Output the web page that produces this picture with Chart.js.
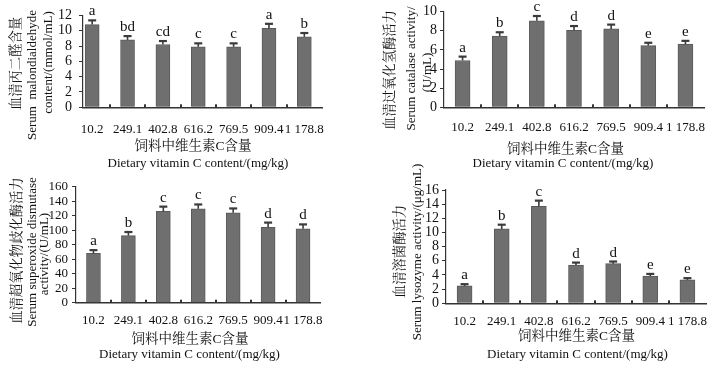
<!DOCTYPE html>
<html><head><meta charset="utf-8">
<script src="https://cdn.jsdelivr.net/npm/chart.js@4.4.1/dist/chart.umd.min.js"></script>
<style>
html,body{margin:0;padding:0;background:#fff;}
#wrap{position:relative;width:718px;height:368px;overflow:hidden;background:#fff;}
canvas{position:absolute;left:0;top:0;}
</style></head><body>
<div id="wrap">
<canvas id="c1" width="718" height="368"></canvas>
<canvas id="c2" width="718" height="368"></canvas>
<canvas id="c3" width="718" height="368"></canvas>
<canvas id="c4" width="718" height="368"></canvas>
</div>
<script>
// ---- data ----
const doseLabels = ['10.2', '249.1', '402.8', '616.2', '769.5', '909.4', '1 178.8'];

const mdaValues  = [10.8, 8.8, 8.2, 7.9, 7.9, 10.3, 9.2];
const mdaErrors  = [0.55, 0.5, 0.45, 0.45, 0.45, 0.6, 0.5];
const mdaLetters = ['a', 'bd', 'cd', 'c', 'c', 'a', 'b'];

const catValues  = [4.9, 7.45, 9.05, 8.05, 8.2, 6.45, 6.6];
const catErrors  = [0.4, 0.4, 0.5, 0.45, 0.45, 0.3, 0.35];
const catLetters = ['a', 'b', 'c', 'd', 'd', 'e', 'e'];

const sodValues  = [68, 92.5, 126, 129.5, 124, 104, 102];
const sodErrors  = [4.5, 5, 6.5, 6, 6, 6.5, 6];
const sodLetters = ['a', 'b', 'c', 'c', 'c', 'd', 'd'];

const lzmValues  = [2.45, 10.5, 13.7, 5.4, 5.6, 3.85, 3.3];
const lzmErrors  = [0.25, 0.6, 0.8, 0.35, 0.3, 0.3, 0.25];
const lzmLetters = ['a', 'b', 'c', 'd', 'd', 'e', 'e'];

const xTitleZh = '饲料中维生素C含量';
const xTitleEn = 'Dietary vitamin C content/(mg/kg)';

// ---- layout ----
const YW = 40, XH = 30;
const SERIF = '"Liberation Serif", "Times New Roman", serif';
const ZH = '"Liberation Serif", "Noto Serif CJK SC", "Noto Sans CJK SC", serif';

const panels = [
  { id: 'c1', values: mdaValues, errors: mdaErrors, letters: mdaLetters,
    L: 83, R: 322, T: 13.3, B: 107.3, xmin: -0.26, xmax: 6.5, yMax: 12, yStep: 2,
    yFont: 14, yPad: 7, xPad: 14, barW: 14,
    zh: [193, 146.5], en: [198, 164],
    yTitles: [['血清丙二醛含量', 16.5, 63.5], ['Serum  malondialdehyde', 33, 75], ['content/(mmol/mL)', 49, 62.5]] },
  { id: 'c2', values: catValues, errors: catErrors, letters: catLetters,
    L: 444, R: 704, T: 11.7, B: 107.3, xmin: -0.5, xmax: 6.5, yMax: 10, yStep: 2,
    yFont: 14, yPad: 3, xPad: 12, barW: 15,
    zh: [565.5, 149], en: [563, 164],
    yTitles: [['血清过氧化氢酶活力', 391, 70], ['Serum catalase activity/', 412, 68.5], ['(U/mL)', 428, 72.5]] },
  { id: 'c3', values: sodValues, errors: sodErrors, letters: sodLetters,
    L: 76, R: 320.5, T: 186.7, B: 302.7, xmin: -0.5, xmax: 6.5, yMax: 160, yStep: 20,
    yFont: 13, yPad: 4, xPad: 10, barW: 14,
    zh: [190, 339], en: [189.5, 355],
    yTitles: [['血清超氧化物歧化酶活力', 18, 250.5], ['Serum superoxide dismutase', 33, 252], ['activity/(U/mL)', 45, 254]] },
  { id: 'c4', values: lzmValues, errors: lzmErrors, letters: lzmLetters,
    L: 446, R: 706, T: 190, B: 303.3, xmin: -0.5, xmax: 6.5, yMax: 16, yStep: 2,
    yFont: 14, yPad: 3, xPad: 10, barW: 15,
    zh: [576.5, 336], en: [577.5, 355],
    yTitles: [['血清溶菌酶活力', 401, 251.5], ['Serum lysozyme activity/(μg/mL)', 418, 252]] }
];

function decor(p) {
  return {
    id: 'decor_' + p.id,
    afterDatasetsDraw(chart) {
      const ctx = chart.ctx, xs = chart.scales.x, ys = chart.scales.y;
      ctx.save();
      ctx.strokeStyle = '#3a3a3a';
      p.values.forEach((v, i) => {
        const x = xs.getPixelForValue(i);
        const y0 = ys.getPixelForValue(v);
        const y1 = ys.getPixelForValue(v + p.errors[i]);
        ctx.lineWidth = 1.6;
        ctx.beginPath(); ctx.moveTo(x, y0); ctx.lineTo(x, y1); ctx.stroke();
        ctx.lineWidth = 2.2;
        ctx.beginPath(); ctx.moveTo(x - 4, y1); ctx.lineTo(x + 4, y1); ctx.stroke();
        ctx.fillStyle = '#111';
        ctx.font = '15px ' + SERIF;
        ctx.textAlign = 'center';
        ctx.textBaseline = 'alphabetic';
        ctx.fillText(p.letters[i], x, y1 - 5);
      });
      // category boundary marks on the x axis
      ctx.fillStyle = '#333';
      for (let i = 0; i < doseLabels.length - 1; i++) {
        const x = xs.getPixelForValue(i + 0.5);
        ctx.fillRect(Math.round(x) - 1, ys.bottom - 3, 2, 3);
      }
      ctx.restore();
    },
    afterDraw(chart) {
      const ctx = chart.ctx;
      ctx.save();
      ctx.fillStyle = '#111';
      ctx.textAlign = 'center';
      ctx.textBaseline = 'middle';
      ctx.font = '13.5px ' + ZH;
      ctx.fillText(xTitleZh, p.zh[0], p.zh[1]);
      ctx.font = '13px ' + SERIF;
      ctx.fillText(xTitleEn, p.en[0], p.en[1]);
      p.yTitles.forEach(([t, x, y], k) => {
        ctx.save();
        ctx.translate(x, y);
        ctx.rotate(-Math.PI / 2);
        ctx.font = (k === 0 ? '13.3px ' + ZH : '13px ' + SERIF);
        ctx.fillText(t, 0, 0);
        ctx.restore();
      });
      ctx.restore();
    }
  };
}

function build(p) {
  return new Chart(document.getElementById(p.id), {
    type: 'bar',
    data: {
      datasets: [{
        data: p.values.map((v, i) => ({ x: i, y: v })),
        backgroundColor: '#6f6f6f',
        borderColor: '#5a5a5a',
        borderWidth: 1,
        barThickness: p.barW
      }]
    },
    options: {
      responsive: false,
      animation: false,
      events: [],
      layout: { padding: { left: p.L - YW, right: 718 - p.R, top: p.T, bottom: 368 - p.B - XH } },
      plugins: { legend: { display: false }, tooltip: { enabled: false }, title: { display: false } },
      scales: {
        x: {
          type: 'linear', offset: false, min: p.xmin, max: p.xmax,
          afterBuildTicks: (s) => { s.ticks = doseLabels.map((_, i) => ({ value: i })); },
          afterFit: (s) => { s.height = XH; },
          ticks: {
            callback: (v) => doseLabels[v], autoSkip: false, maxRotation: 0, minRotation: 0,
            padding: p.xPad, color: '#111', font: { family: SERIF, size: 13 }
          },
          grid: { display: false, drawTicks: false, offset: false },
          border: { display: true, color: '#333', width: 1.6 }
        },
        y: {
          type: 'linear', min: 0, max: p.yMax,
          afterFit: (s) => { s.width = YW; },
          ticks: { stepSize: p.yStep, autoSkip: false, padding: p.yPad, color: '#111', font: { family: SERIF, size: p.yFont } },
          grid: { drawOnChartArea: false, drawTicks: true, tickLength: 4, color: '#333', tickColor: '#333' },
          border: { display: true, color: '#333', width: 1.2 }
        }
      }
    },
    plugins: [decor(p)]
  });
}

panels.forEach(build);
</script>
</body></html>
